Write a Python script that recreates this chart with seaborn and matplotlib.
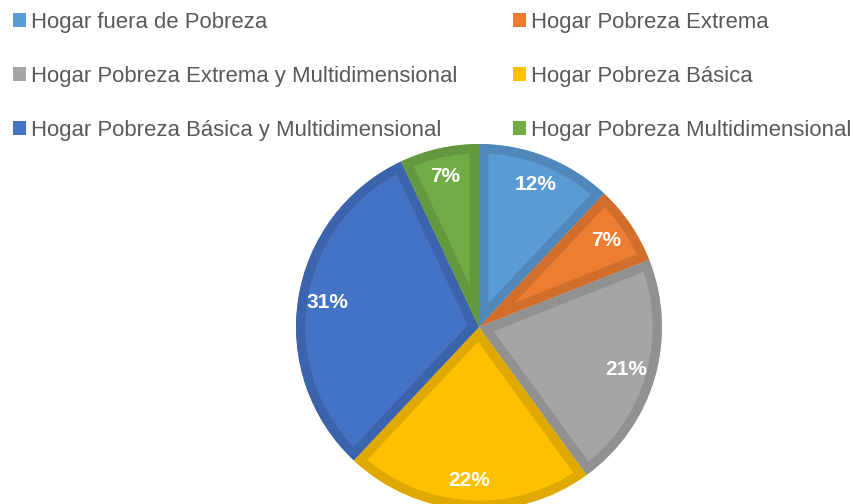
import matplotlib
matplotlib.use("Agg")
import matplotlib.pyplot as plt
from matplotlib.patches import Patch
import matplotlib.colors as mcolors
import seaborn as sns

# datos del gráfico
categorias = [
    "Hogar fuera de Pobreza",
    "Hogar Pobreza Extrema",
    "Hogar Pobreza Extrema y Multidimensional",
    "Hogar Pobreza Básica",
    "Hogar Pobreza Básica y Multidimensional",
    "Hogar Pobreza Multidimensional",
]
porcentajes = [12, 7, 21, 22, 31, 7]
colores = ["#5B9BD5", "#ED7D31", "#A5A5A5", "#FFC000", "#4472C4", "#70AD47"]


def oscurecer(c, f=0.88):
    r, g, b = mcolors.to_rgb(c)
    return (r * f, g * f, b * f)


sns.set_theme(style="white")
plt.rcParams["font.family"] = ["Liberation Sans", "DejaVu Sans"]

fig = plt.figure(figsize=(8.54, 5.04), dpi=100)

# posición del pastel en pixeles
cx, cy, r = 479, 327, 183
W, H = 854, 504
ax = fig.add_axes([(cx - r) / W, (H - cy - r) / H, 2 * r / W, 2 * r / H])

wedges, textos = ax.pie(
    porcentajes,
    colors=colores,
    startangle=90,
    counterclock=False,
    radius=1,
    labels=[f"{p}%" for p in porcentajes],
    labeldistance=0.84,
    textprops=dict(color="white", fontsize=15, fontweight="bold"),
)
for t in textos:
    t.set_horizontalalignment("center")
    t.set_verticalalignment("center")

# borde interior más oscuro, estilo Excel
for w, c in zip(wedges, colores):
    w.set_edgecolor(oscurecer(c))
    w.set_linewidth(13.5)
    w.set_joinstyle("miter")
    w.set_clip_on(True)
    w.set_clip_path(w)

ax.set_xlim(-1, 1)
ax.set_ylim(-1, 1)
ax.set_aspect("equal")
ax.axis("off")

# leyenda en dos columnas, ordenada por filas
orden = [0, 2, 4, 1, 3, 5]
handles = [Patch(facecolor=colores[i], edgecolor="none") for i in orden]
etiquetas = [categorias[i] for i in orden]
fig.legend(
    handles,
    etiquetas,
    loc="upper left",
    bbox_to_anchor=(13 / W, 1 - 12 / H),
    ncol=2,
    frameon=False,
    fontsize=15.9,
    labelcolor="#595959",
    handlelength=0.58,
    handleheight=0.58,
    handletextpad=0.25,
    labelspacing=1.49,
    columnspacing=2.5,
    borderaxespad=0,
    borderpad=0,
)

fig.savefig("out.png", dpi=100)
